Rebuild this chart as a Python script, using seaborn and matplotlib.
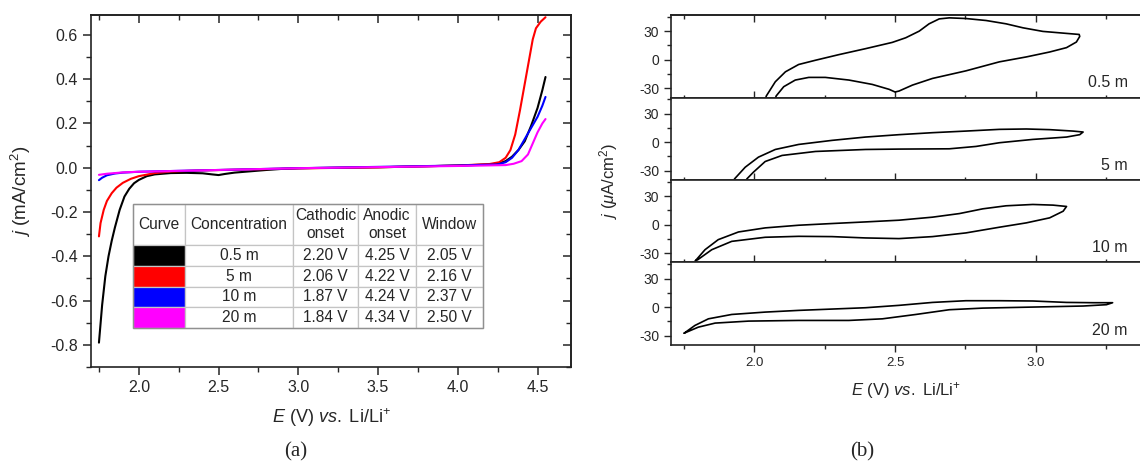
import matplotlib
matplotlib.use("Agg")
import matplotlib.pyplot as plt
import numpy as np
import pandas as pd
import seaborn as sns
from matplotlib.ticker import MultipleLocator, FormatStrFormatter

# ---------------- (a) linear sweeps, 4 concentrations ----------------
lsv_names = ["0.5 m", "5 m", "10 m", "20 m"]
lsv_colors = ["#000000", "#ff0000", "#0000ff", "#ff00ff"]

e_black = [1.75, 1.77, 1.79, 1.81, 1.83, 1.85, 1.88, 1.91, 1.94, 1.97, 2.00, 2.05, 2.10, 2.20,
           2.30, 2.40, 2.46, 2.50, 2.54, 2.60, 2.70, 2.80, 2.90, 3.00, 3.50, 4.00, 4.20, 4.26,
           4.30, 4.34, 4.38, 4.42, 4.46, 4.50, 4.53, 4.55]
j_black = [-0.79, -0.62, -0.49, -0.40, -0.33, -0.27, -0.19, -0.13, -0.095, -0.07, -0.055, -0.038,
           -0.03, -0.024, -0.023, -0.025, -0.03, -0.033, -0.028, -0.022, -0.016, -0.01, -0.005,
           -0.002, 0.002, 0.01, 0.015, 0.02, 0.03, 0.05, 0.08, 0.12, 0.19, 0.27, 0.35, 0.41]

e_red = [1.75, 1.76, 1.78, 1.80, 1.83, 1.86, 1.90, 1.95, 2.00, 2.10, 2.20, 2.40, 2.60, 3.00, 3.50,
         4.00, 4.20, 4.26, 4.30, 4.33, 4.36, 4.39, 4.42, 4.45, 4.47, 4.49, 4.52, 4.55]
j_red = [-0.31, -0.25, -0.19, -0.15, -0.115, -0.09, -0.068, -0.05, -0.038, -0.024, -0.017, -0.012,
         -0.009, -0.003, 0.002, 0.01, 0.017, 0.025, 0.045, 0.08, 0.15, 0.26, 0.38, 0.50, 0.58,
         0.63, 0.66, 0.68]

e_blue = [1.75, 1.77, 1.80, 1.85, 1.90, 2.00, 2.50, 3.00, 3.50, 4.00, 4.25, 4.30, 4.34, 4.38,
          4.42, 4.46, 4.50, 4.53, 4.55]
j_blue = [-0.056, -0.045, -0.034, -0.026, -0.022, -0.018, -0.01, -0.002, 0.004, 0.01, 0.015,
          0.025, 0.045, 0.08, 0.13, 0.18, 0.23, 0.28, 0.32]

e_magenta = [1.75, 1.80, 1.85, 1.90, 2.00, 2.50, 3.00, 3.50, 4.00, 4.30, 4.35, 4.40, 4.44, 4.47,
             4.50, 4.53, 4.55]
j_magenta = [-0.032, -0.027, -0.024, -0.021, -0.018, -0.01, -0.002, 0.003, 0.008, 0.012, 0.018,
             0.03, 0.06, 0.11, 0.16, 0.20, 0.22]

table_header = ["Curve", "Concentration", "Cathodic\nonset", "Anodic\nonset", "Window"]
cathodic_onset = ["2.20 V", "2.06 V", "1.87 V", "1.84 V"]
anodic_onset = ["4.25 V", "4.22 V", "4.24 V", "4.34 V"]
window = ["2.05 V", "2.16 V", "2.37 V", "2.50 V"]

# ---------------- (b) CV loops ----------------
cv_names = ["0.5 m", "5 m", "10 m", "20 m"]

cv_e_05 = [2.035, 2.042, 2.074, 2.110, 2.157, 2.217, 2.300, 2.395, 2.490, 2.538, 2.586, 2.621,
           2.657, 2.693, 2.752, 2.824, 2.895, 2.955, 3.026, 3.110, 3.155, 3.157, 3.145, 3.110,
           3.050, 2.967, 2.871, 2.752, 2.633, 2.562, 2.514, 2.500, 2.479, 2.419, 2.336, 2.252,
           2.193, 2.145, 2.104, 2.077, 2.070]
cv_j_05 = [-46, -38.4, -23.4, -12.9, -5.2, -0.7, 5.2, 11.5, 18.1, 23.0, 30.0, 37.7, 42.9, 44.0,
           43.3, 41.2, 37.7, 33.5, 29.7, 27.6, 26.5, 24.4, 18.5, 12.6, 8.0, 2.8, -2.4, -11.9,
           -19.9, -26.9, -33.2, -34.2, -31.4, -26.2, -21.6, -18.8, -18.8, -21.6, -28.6, -38.4, -46]

cv_e_5 = [1.922, 1.929, 1.967, 2.014, 2.074, 2.157, 2.276, 2.395, 2.514, 2.633, 2.752, 2.871,
          2.967, 3.050, 3.133, 3.169, 3.157, 3.110, 2.990, 2.871, 2.788, 2.693, 2.514, 2.395,
          2.217, 2.098, 2.038, 1.996, 1.973, 1.966]
cv_j_5 = [-46, -38.8, -26.5, -15.9, -7.8, -2.5, 1.8, 5.3, 7.8, 9.9, 11.6, 13.4, 13.8, 13.1, 11.6,
          10.6, 7.8, 5.3, 2.8, -0.7, -4.6, -7.1, -7.4, -7.8, -9.9, -14.1, -20.5, -31.8, -38.8, -46]

cv_e_10 = [1.790, 1.824, 1.871, 1.943, 2.038, 2.157, 2.276, 2.395, 2.514, 2.633, 2.729, 2.812,
           2.895, 2.990, 3.062, 3.110, 3.098, 3.050, 2.967, 2.871, 2.752, 2.633, 2.514, 2.395,
           2.276, 2.157, 2.038, 1.919, 1.848, 1.798, 1.790]
cv_j_10 = [-38.1, -26.5, -15.9, -7.8, -3.5, -0.7, 1.1, 2.8, 4.6, 7.8, 11.6, 16.6, 19.8, 21.2, 20.5,
           19.1, 14.1, 7.1, 1.8, -2.8, -8.8, -12.7, -14.8, -14.1, -12.7, -12.4, -13.4, -17.7,
           -26.5, -37.1, -38.1]

cv_e_20 = [1.750, 1.788, 1.836, 1.919, 2.038, 2.157, 2.276, 2.395, 2.514, 2.633, 2.752, 2.871,
           2.990, 3.110, 3.205, 3.274, 3.252, 3.169, 2.990, 2.812, 2.693, 2.574, 2.455, 2.336,
           2.157, 1.979, 1.860, 1.800, 1.750]
cv_j_20 = [-27.5, -19.4, -12.4, -7.8, -5.3, -3.5, -2.1, -0.7, 1.8, 4.9, 6.7, 6.7, 6.4, 4.9, 4.6,
           4.6, 2.5, 1.1, 0.0, -1.1, -2.8, -7.8, -12.4, -14.1, -14.1, -14.8, -16.9, -21.2, -27.5]

sns.set_style("ticks")
plt.rcParams["font.family"] = ["Liberation Sans", "DejaVu Sans"]
plt.rcParams["mathtext.fontset"] = "custom"
plt.rcParams["mathtext.rm"] = "Liberation Sans"
plt.rcParams["mathtext.it"] = "Liberation Sans:italic"
plt.rcParams["axes.unicode_minus"] = False
plt.rcParams["axes.linewidth"] = 1.2
plt.rcParams["axes.edgecolor"] = "#222222"

x_label = r"$E$ (V) $vs.\ $Li/Li$^{+}$"

fig = plt.figure(figsize=(11.4, 4.69), dpi=100)

# ---- panel (a)
ax = fig.add_axes([0.0798, 0.2175, 0.4211, 0.7505])
lsv = pd.concat([
    pd.DataFrame({"E": e, "j": j, "conc": n})
    for e, j, n in zip([e_black, e_red, e_blue, e_magenta],
                       [j_black, j_red, j_blue, j_magenta], lsv_names)
])
sns.lineplot(data=lsv, x="E", y="j", hue="conc", palette=lsv_colors, hue_order=lsv_names,
             sort=False, estimator=None, units="conc", lw=1.5, legend=False, ax=ax)
ax.set_xlim(1.70, 4.71)
ax.set_ylim(-0.9, 0.69)
ax.xaxis.set_major_locator(MultipleLocator(0.5))
ax.xaxis.set_minor_locator(MultipleLocator(0.25))
ax.yaxis.set_major_locator(MultipleLocator(0.2))
ax.yaxis.set_minor_locator(MultipleLocator(0.1))
ax.xaxis.set_major_formatter(FormatStrFormatter("%.1f"))
ax.yaxis.set_major_formatter(FormatStrFormatter("%.1f"))
ax.tick_params(which="major", direction="out", length=6, width=1.1, labelsize=11.5)
ax.tick_params(which="minor", direction="out", length=3.5, width=1.0)
for loc in ("x", "y"):
    sec = ax.secondary_xaxis("top") if loc == "x" else ax.secondary_yaxis("right")
    axis = sec.xaxis if loc == "x" else sec.yaxis
    axis.set_major_locator(MultipleLocator(0.5 if loc == "x" else 0.2))
    axis.set_minor_locator(MultipleLocator(0.25 if loc == "x" else 0.1))
    sec.tick_params(which="major", direction="in", length=6, width=1.1,
                    labeltop=False, labelright=False)
    sec.tick_params(which="minor", direction="in", length=3.5, width=1.0)
ax.set_xlabel(x_label, fontsize=13, labelpad=8)
ax.set_ylabel(r"$j$ (mA/cm$^{2}$)", fontsize=13.5, labelpad=12)

cell_text = [table_header] + [["", n, c, a, w] for n, c, a, w in
                              zip(lsv_names, cathodic_onset, anodic_onset, window)]
cell_colors = [["white"] * 5] + [[col] + ["white"] * 4 for col in lsv_colors]
tab = ax.table(cellText=cell_text, cellColours=cell_colors, cellLoc="center",
               colWidths=[52, 108, 65, 58, 67], bbox=[0.0875, 0.111, 0.729, 0.352])
tab.auto_set_font_size(False)
tab.set_fontsize(11.2)
for (r, c), cell in tab.get_celld().items():
    cell.set_edgecolor("#c4c4c4")
    cell.set_linewidth(0.9)
    cell.set_height(0.12 if r == 0 else 0.06)
    cell.PAD = 0.02
ax.add_patch(plt.Rectangle((0.0875, 0.111), 0.729, 0.352, transform=ax.transAxes,
                           fill=False, ec="#909090", lw=1.0, zorder=10))

# ---- panel (b)
left, right, top, bottom = 0.5886, 1.0009, 0.968, 0.2644
h = (top - bottom) / 4
cv_e = [cv_e_05, cv_e_5, cv_e_10, cv_e_20]
cv_j = [cv_j_05, cv_j_5, cv_j_10, cv_j_20]
axes_b = []
for i in range(4):
    a = fig.add_axes([left, top - (i + 1) * h, right - left, h])
    df = pd.DataFrame({"E": cv_e[i], "j": cv_j[i]})
    sns.lineplot(data=df, x="E", y="j", sort=False, estimator=None, color="black", lw=1.2, ax=a)
    a.set_xlim(1.703, 3.375)
    a.set_ylim(-40, 47)
    a.set_yticks([-30, 0, 30])
    a.yaxis.set_minor_locator(MultipleLocator(15))
    a.xaxis.set_major_locator(MultipleLocator(0.5))
    a.xaxis.set_minor_locator(MultipleLocator(0.25))
    a.xaxis.set_major_formatter(FormatStrFormatter("%.1f"))
    a.tick_params(axis="y", which="major", direction="out", length=5, width=1.0, labelsize=10)
    a.tick_params(axis="y", which="minor", direction="out", length=3, width=1.0)
    if i < 3:
        a.tick_params(axis="x", which="major", direction="inout", length=10, width=1.0,
                      labelbottom=False)
        a.tick_params(axis="x", which="minor", direction="inout", length=5, width=1.0)
    else:
        a.tick_params(axis="x", which="major", direction="out", length=5, width=1.0,
                      labelsize=9.5)
        a.tick_params(axis="x", which="minor", direction="out", length=3, width=1.0)
    if i == 0:
        sec = a.secondary_xaxis("top")
        sec.xaxis.set_major_locator(MultipleLocator(0.5))
        sec.xaxis.set_minor_locator(MultipleLocator(0.25))
        sec.tick_params(which="major", direction="in", length=5, width=1.0, labeltop=False)
        sec.tick_params(which="minor", direction="in", length=3, width=1.0)
    a.set_xlabel("")
    a.set_ylabel("")
    a.text(0.972, 0.18, cv_names[i], transform=a.transAxes, ha="right", va="center",
           fontsize=11.5)
    axes_b.append(a)
axes_b[-1].set_xlabel(x_label, fontsize=12, labelpad=8)
fig.text(0.534, 0.615, r"$j$ ($\mu$A/cm$^{2}$)", rotation=90, ha="center", va="center",
         fontsize=12)

fig.text(296 / 1140, 1 - 452 / 469, "(a)", ha="center", va="center", fontsize=15,
         family="Liberation Serif")
fig.text(862 / 1140, 1 - 452 / 469, "(b)", ha="center", va="center", fontsize=15,
         family="Liberation Serif")

fig.savefig("out.png", dpi=100)
